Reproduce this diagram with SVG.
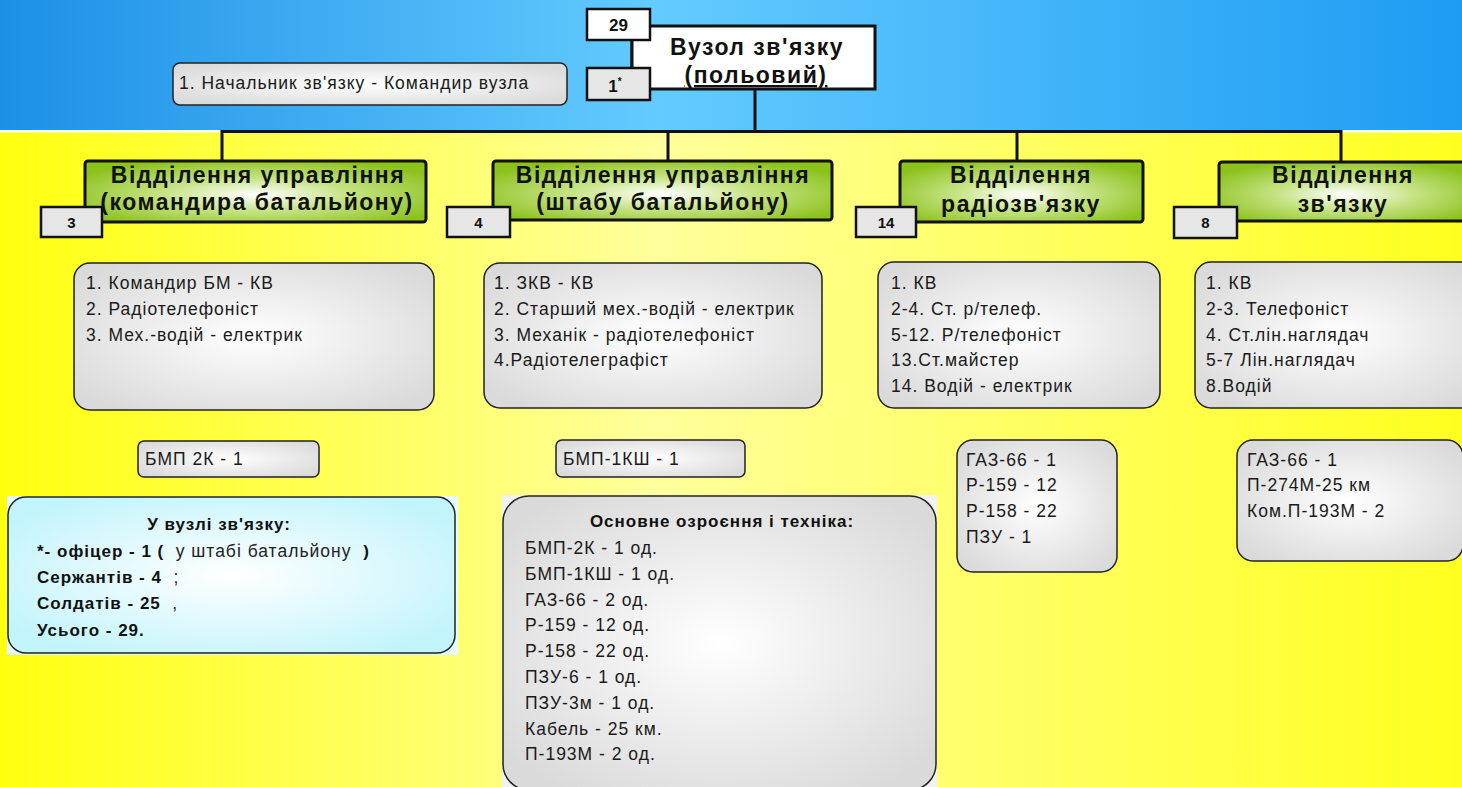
<svg xmlns="http://www.w3.org/2000/svg" width="1462" height="787" viewBox="0 0 1462 787">
<defs>
<linearGradient id="bgBlue" x1="0" y1="0" x2="1" y2="0">
<stop offset="0" stop-color="#1d8fe6"/>
<stop offset="0.45" stop-color="#63cbff"/>
<stop offset="1" stop-color="#1e9cf2"/>
</linearGradient>
<linearGradient id="bgYellow" x1="0" y1="0" x2="1" y2="0">
<stop offset="0" stop-color="#ffff10"/>
<stop offset="0.45" stop-color="#ffff9c"/>
<stop offset="1" stop-color="#ffff1e"/>
</linearGradient>
<radialGradient id="gGray" cx="0.5" cy="0.5" r="0.62">
<stop offset="0" stop-color="#ffffff"/>
<stop offset="1" stop-color="#dadada"/>
</radialGradient>
<radialGradient id="gGreen" cx="0.5" cy="0.55" r="0.6">
<stop offset="0" stop-color="#ffffff"/>
<stop offset="0.45" stop-color="#c6e385"/>
<stop offset="1" stop-color="#8cc21c"/>
</radialGradient>
<radialGradient id="gCyan" cx="0.5" cy="0.5" r="0.6">
<stop offset="0" stop-color="#ffffff"/>
<stop offset="1" stop-color="#c2f4fc"/>
</radialGradient>
<style>
.hdr{font-family:"Liberation Sans",Arial,sans-serif;font-weight:bold;font-size:23px;letter-spacing:1.5px;fill:#111;text-anchor:middle}
.lst{font-family:"Liberation Sans",Arial,sans-serif;font-size:17.5px;letter-spacing:1px;fill:#1a1a1a}
.num{font-family:"Liberation Sans",Arial,sans-serif;font-weight:bold;font-size:15px;fill:#111;text-anchor:middle}
.numL{font-family:"Liberation Sans",Arial,sans-serif;font-weight:bold;font-size:17px;fill:#111;text-anchor:middle}
.b16{font-family:"Liberation Sans",Arial,sans-serif;font-weight:bold;font-size:17px;letter-spacing:1px;fill:#111}
.n16{font-family:"Liberation Sans",Arial,sans-serif;font-weight:normal;font-size:17.5px;letter-spacing:1px;fill:#222}
.gray{fill:url(#gGray);stroke:#222;stroke-width:1.5}
.green{fill:url(#gGreen);stroke:#111;stroke-width:3}
.badge{fill:#e6e6e6;stroke:#111;stroke-width:2.5}
.conn{stroke:#111;stroke-width:3;fill:none}
</style>
</defs>

<g id="background">
<rect x="0" y="0" width="1462" height="131" fill="url(#bgBlue)"/>
<rect x="0" y="131" width="1462" height="656" fill="url(#bgYellow)"/>
<rect x="0" y="130" width="1462" height="2.5" fill="#ffffff"/>
</g>

<g id="connectors">
<path class="conn" d="M755 89 V131.5"/>
<path class="conn" d="M222 161 V131.5 H1341 V162"/>
<path class="conn" d="M668 131.5 V161"/>
<path class="conn" d="M1017 131.5 V161"/>
<path class="conn" d="M632 40 V68"/>
</g>

<g id="node-root">
<rect x="632" y="26" width="243" height="63" fill="#ffffff" stroke="#111" stroke-width="3"/>
<text class="hdr" x="757" y="55">Вузол зв'язку</text>
<text class="hdr" x="756" y="83" text-decoration="underline">(польовий)</text>
</g>

<g id="badge-29">
<rect x="587" y="9" width="63" height="31" fill="#ffffff" stroke="#111" stroke-width="2.5"/>
<text class="numL" x="618.5" y="31">29</text>
</g>

<g id="badge-1">
<rect class="badge" x="587" y="68" width="63" height="32"/>
<text class="numL" x="615" y="92">1<tspan font-size="10" dy="-7">*</tspan></text>
</g>

<g id="chief">
<rect class="gray" x="173" y="63" width="394" height="42" rx="7"/>
<text class="lst" x="179" y="89">1. Начальник зв'язку  - Командир вузла</text>
</g>

<g id="dept-1">
<rect class="green" x="85" y="161" width="341" height="61" rx="3"/>
<text class="hdr" x="258" y="183">Відділення управління</text>
<text class="hdr" x="257" y="210">(командира батальйону)</text>
<rect class="badge" x="41" y="207" width="61" height="30"/>
<text class="num" x="71.5" y="228">3</text>
</g>

<g id="dept-2">
<rect class="green" x="493" y="161" width="339" height="59" rx="3"/>
<text class="hdr" x="663" y="183">Відділення управління</text>
<text class="hdr" x="663" y="210">(штабу батальйону)</text>
<rect class="badge" x="447" y="207" width="63" height="30"/>
<text class="num" x="478.5" y="228">4</text>
</g>

<g id="dept-3">
<rect class="green" x="900" y="161" width="243" height="61" rx="3"/>
<text class="hdr" x="1021" y="183">Відділення</text>
<text class="hdr" x="1021" y="212">радіозв'язку</text>
<rect class="badge" x="856" y="207" width="60" height="30"/>
<text class="num" x="886" y="228">14</text>
</g>

<g id="dept-4">
<rect class="green" x="1219" y="162" width="253" height="59" rx="3"/>
<text class="hdr" x="1343" y="183">Відділення</text>
<text class="hdr" x="1343" y="212">зв'язку</text>
<rect class="badge" x="1174" y="207" width="63" height="31"/>
<text class="num" x="1205.5" y="228">8</text>
</g>

<g id="staff-1">
<rect class="gray" x="74" y="263" width="360" height="147" rx="16"/>
<text class="lst" x="86" y="289">1. Командир БМ - КВ</text>
<text class="lst" x="86" y="315">2. Радіотелефоніст</text>
<text class="lst" x="86" y="341">3. Мех.-водій - електрик</text>
</g>

<g id="staff-2">
<rect class="gray" x="484" y="263" width="338" height="145" rx="16"/>
<text class="lst" x="494" y="289">1. ЗКВ - КВ</text>
<text class="lst" x="494" y="315">2. Старший мех.-водій - електрик</text>
<text class="lst" x="494" y="341">3. Механік - радіотелефоніст</text>
<text class="lst" x="494" y="366">4.Радіотелеграфіст</text>
</g>

<g id="staff-3">
<rect class="gray" x="878" y="262" width="282" height="146" rx="16"/>
<text class="lst" x="891" y="289">1. КВ</text>
<text class="lst" x="891" y="315">2-4. Ст. р/телеф.</text>
<text class="lst" x="891" y="341">5-12. Р/телефоніст</text>
<text class="lst" x="891" y="366">13.Ст.майстер</text>
<text class="lst" x="891" y="392">14. Водій - електрик</text>
</g>

<g id="staff-4">
<rect class="gray" x="1195" y="262" width="285" height="146" rx="16"/>
<text class="lst" x="1206" y="289">1. КВ</text>
<text class="lst" x="1206" y="315">2-3. Телефоніст</text>
<text class="lst" x="1206" y="341">4. Ст.лін.наглядач</text>
<text class="lst" x="1206" y="366">5-7 Лін.наглядач</text>
<text class="lst" x="1206" y="392">8.Водій</text>
</g>

<g id="equip-1">
<rect class="gray" x="138" y="441" width="181" height="36" rx="6"/>
<text class="lst" x="145" y="465">БМП 2К  - 1</text>
</g>

<g id="equip-2">
<rect class="gray" x="556" y="440" width="189" height="37" rx="6"/>
<text class="lst" x="563" y="465">БМП-1КШ  - 1</text>
</g>

<g id="equip-3">
<rect class="gray" x="957" y="440" width="160" height="132" rx="16"/>
<text class="lst" x="966" y="466">ГАЗ-66 - 1</text>
<text class="lst" x="966" y="491">Р-159 - 12</text>
<text class="lst" x="966" y="517">Р-158 - 22</text>
<text class="lst" x="966" y="543">ПЗУ - 1</text>
</g>

<g id="equip-4">
<rect class="gray" x="1237" y="440" width="226" height="121" rx="16"/>
<text class="lst" x="1247" y="466">ГАЗ-66 - 1</text>
<text class="lst" x="1247" y="491">П-274М-25 км</text>
<text class="lst" x="1247" y="517">Ком.П-193М - 2</text>
</g>

<g id="summary">
<rect x="7" y="496" width="451" height="159" fill="#e6fbff"/>
<rect x="8" y="497" width="447" height="156" rx="18" fill="url(#gCyan)" stroke="#222" stroke-width="1.5"/>
<text class="b16" x="219" y="530" text-anchor="middle">У вузлі  зв'язку:</text>
<text class="b16" x="37" y="557" xml:space="preserve">*- офіцер - 1 (  <tspan class="n16">у штабі батальйону  </tspan>)</text>
<text class="b16" x="37" y="583" xml:space="preserve">Сержантів - 4  <tspan class="n16">;</tspan></text>
<text class="b16" x="37" y="609" xml:space="preserve">Солдатів - 25  <tspan class="n16">,</tspan></text>
<text class="b16" x="37" y="636">Усього - 29.</text>
</g>

<g id="weapons">
<rect x="502" y="495" width="435" height="292" fill="#f2f2f2"/>
<rect x="503" y="496" width="433" height="294" rx="26" fill="url(#gGray)" stroke="#222" stroke-width="1.5"/>
<text class="b16" x="722" y="527" text-anchor="middle">Основне озроєння і техніка:</text>
<text class="lst" x="525" y="554">БМП-2К - 1 од.</text>
<text class="lst" x="525" y="580">БМП-1КШ - 1 од.</text>
<text class="lst" x="525" y="606">ГАЗ-66 - 2 од.</text>
<text class="lst" x="525" y="631">Р-159 - 12 од.</text>
<text class="lst" x="525" y="657">Р-158 - 22 од.</text>
<text class="lst" x="525" y="683">ПЗУ-6 - 1 од.</text>
<text class="lst" x="525" y="709">ПЗУ-3м - 1 од.</text>
<text class="lst" x="525" y="735">Кабель - 25 км.</text>
<text class="lst" x="525" y="760">П-193М - 2 од.</text>
</g>
</svg>
